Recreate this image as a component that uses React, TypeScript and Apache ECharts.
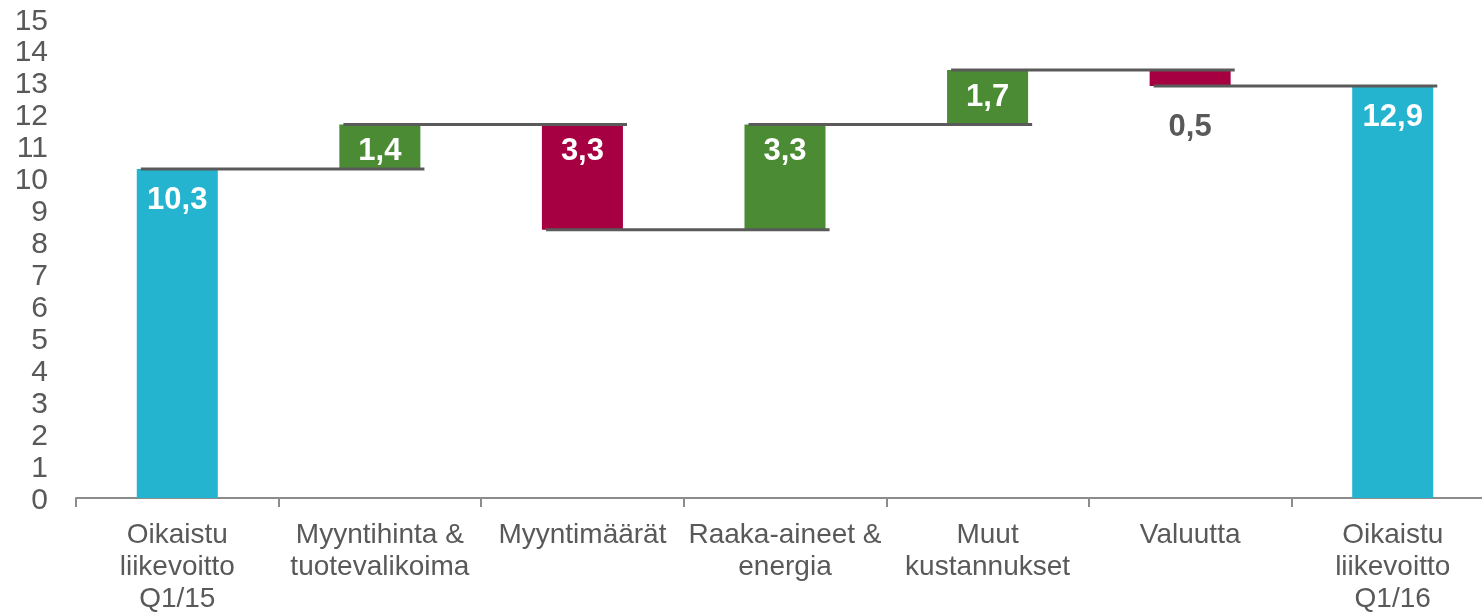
import React, { useEffect, useRef } from "react";
import * as echarts from "echarts";

const categories = [
  "Oikaistu\nliikevoitto\nQ1/15",
  "Myyntihinta &\ntuotevalikoima",
  "Myyntimäärät",
  "Raaka-aineet &\nenergia",
  "Muut\nkustannukset",
  "Valuutta",
  "Oikaistu\nliikevoitto\nQ1/16",
];
const startValue = 10.3;
const changes = [1.4, -3.3, 3.3, 1.7, -0.5];
const endValue = 12.9;
const yTicks = { min: 0, max: 15, interval: 1 };

const COLOR_TOTAL = "#24B4CF";
const COLOR_UP = "#4A8B34";
const COLOR_DOWN = "#A70042";
const TEXT = "#595959";

const fmt = (v: number) => Math.abs(v).toFixed(1).replace(".", ",");

export default function App() {
  const ref = useRef<HTMLDivElement>(null);
  useEffect(() => {
    if (!ref.current) return;
    const chart = echarts.init(ref.current, undefined, { renderer: "svg" });

    const base: number[] = [0];
    const vals: any[] = [];
    const levels: number[] = [startValue];
    vals.push({ value: startValue, itemStyle: { color: COLOR_TOTAL }, label: { distance: 14 } });
    let run = startValue;
    changes.forEach((c) => {
      const next = run + c;
      base.push(Math.min(run, next));
      const isDown = c < 0;
      const isSmall = Math.abs(c) < 1;
      vals.push({
        value: Math.abs(c),
        raw: c,
        itemStyle: { color: isDown ? COLOR_DOWN : COLOR_UP },
        label: isSmall
          ? { position: "bottom", color: TEXT, distance: 24 }
          : undefined,
      });
      run = next;
      levels.push(run);
    });
    base.push(0);
    vals.push({ value: endValue, itemStyle: { color: COLOR_TOTAL }, label: { distance: 14 } });

    const connectorData = levels.map((lv, i) => [i, lv]);

    chart.setOption({
      animation: false,
      grid: { left: 76, right: 0, top: 19, bottom: 115, containLabel: false },
      xAxis: {
        type: "category",
        data: categories,
        axisLine: { lineStyle: { color: "#8C8C8C", width: 2 } },
        axisTick: { show: true, length: 9, lineStyle: { color: "#8C8C8C", width: 2 } },
        axisLabel: {
          color: TEXT,
          fontSize: 28,
          fontFamily: "Liberation Sans, Arial, sans-serif",
          lineHeight: 32,
          margin: 19,
          interval: 0,
        },
      },
      yAxis: {
        type: "value",
        min: yTicks.min,
        max: yTicks.max,
        interval: yTicks.interval,
        axisLine: { show: false },
        axisTick: { show: false },
        splitLine: { show: false },
        axisLabel: {
          color: TEXT,
          fontSize: 30,
          fontFamily: "Liberation Sans, Arial, sans-serif",
          margin: 28,
        },
      },
      series: [
        {
          type: "bar",
          stack: "w",
          barWidth: "40%",
          itemStyle: { color: "transparent" },
          emphasis: { disabled: true },
          data: base,
          silent: true,
        },
        {
          type: "bar",
          stack: "w",
          barWidth: "40%",
          data: vals,
          label: {
            show: true,
            position: "insideTop",
            distance: 10,
            color: "#ffffff",
            fontSize: 31,
            fontWeight: "bold",
            fontFamily: "Liberation Sans, Arial, sans-serif",
            formatter: (p: any) => fmt(p.data.raw ?? p.value),
          },
        },
        {
          type: "custom",
          z: 10,
          data: connectorData,
          renderItem: (params: any, api: any) => {
            const i = api.value(0);
            const lv = api.value(1);
            const p = api.coord([i, lv]);
            const band = api.size([1, 0])[0];
            return {
              type: "line",
              shape: { x1: p[0] - band * 0.18, y1: p[1], x2: p[0] + band + band * 0.22, y2: p[1] },
              style: { stroke: "#5A5A5A", lineWidth: 3 },
            };
          },
        },
      ],
    });
    return () => chart.dispose();
  }, []);
  return (
    <div
      ref={ref}
      style={{ position: "fixed", left: 0, top: 0, width: 1494, height: 613 }}
    />
  );
}
